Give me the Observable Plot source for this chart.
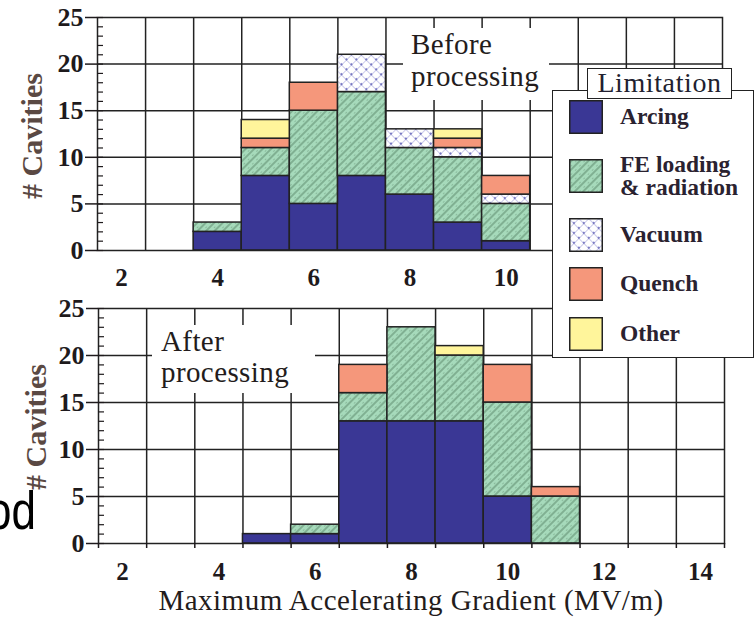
<!DOCTYPE html>
<html><head><meta charset="utf-8">
<script src="https://cdn.jsdelivr.net/npm/d3@7"></script>
<script src="https://cdn.jsdelivr.net/npm/@observablehq/plot@0.6"></script>
<style>
html,body{margin:0;padding:0;background:#fff;}
#page{position:relative;width:754px;height:620px;overflow:hidden;background:#fff;font-family:"Liberation Serif",serif;color:#1e1a1c;}
.panel{position:absolute;left:0;}
.panel svg{overflow:visible;background:transparent;}
.note{position:absolute;background:#fff;font-size:29px;letter-spacing:0.4px;white-space:pre;box-sizing:border-box;color:#231c1c;}
.ylab{position:absolute;font-size:30px;font-weight:bold;line-height:1;white-space:nowrap;color:#5a4943;transform:translate(-50%,-50%) rotate(-90deg);}
.xlab{position:absolute;font-size:29px;line-height:1;white-space:nowrap;letter-spacing:0.5px;transform:translateX(-50%);color:#231c1c;}
.legend{position:absolute;left:552px;top:90px;width:202px;height:268px;box-sizing:border-box;border:1.5px solid #222;background:#fff;}
.ltitle{position:absolute;left:587px;top:68px;width:145px;height:31px;box-sizing:border-box;border:1.5px solid #222;background:#fff;font-size:28px;letter-spacing:0.6px;line-height:28px;text-align:center;color:#221f30;}
.litem{position:absolute;left:569px;height:33px;display:flex;align-items:center;gap:17px;}
.litem span{font-size:23.5px;font-weight:bold;line-height:23px;white-space:pre;color:#2a2230;}
.od{position:absolute;left:-13px;top:485px;font-family:"Liberation Sans",sans-serif;font-size:44px;line-height:1;color:#000;transform-origin:0 0;transform:scaleY(1.2);}
</style></head><body><div id="page"></div>
<script>
// ---- data ----
const bins = [2, 3, 4, 5, 6, 7, 8, 9, 10, 11, 12, 13, 14];
const causes = ["Arcing", "FE loading\n& radiation", "Vacuum", "Quench", "Other"];
// Before processing: counts per bin
const beforeArcing = [0, 0, 2, 8, 5, 8, 6, 3, 1, 0, 0, 0, 0];
const beforeFE     = [0, 0, 1, 3, 10, 9, 5, 7, 4, 0, 0, 0, 0];
const beforeVacuum = [0, 0, 0, 0, 0, 4, 2, 1, 1, 0, 0, 0, 0];
const beforeQuench = [0, 0, 0, 1, 3, 0, 0, 1, 2, 0, 0, 0, 0];
const beforeOther  = [0, 0, 0, 2, 0, 0, 0, 1, 0, 0, 0, 0, 0];
// After processing: counts per bin
const afterArcing = [0, 0, 0, 1, 1, 13, 13, 13, 5, 0, 0, 0, 0];
const afterFE     = [0, 0, 0, 0, 1, 3, 10, 7, 10, 5, 0, 0, 0];
const afterVacuum = [0, 0, 0, 0, 0, 0, 0, 0, 0, 0, 0, 0, 0];
const afterQuench = [0, 0, 0, 0, 0, 3, 0, 0, 4, 1, 0, 0, 0];
const afterOther  = [0, 0, 0, 0, 0, 0, 0, 1, 0, 0, 0, 0, 0];
const xTickValuesTop = [2, 4, 6, 8, 10];          // 12 and 14 sit under the legend
const xTickValuesBottom = [2, 4, 6, 8, 10, 12, 14];
const yTickValues = [0, 5, 10, 15, 20, 25];
const panelNotes = ["Before\nprocessing", "After\nprocessing"];
const legendTitle = "Limitation";
const xTitle = "Maximum Accelerating Gradient (MV/m)";
const yTitle = "# Cavities";
const strayText = "od";

// ---- styles ----
const fills = ["#3a3795", "url(#pat-fe)", "url(#pat-vac)", "#f5977b", "#fff59b"];
const ink = "#222";

const page = document.getElementById("page");

// pattern defs
const defs = document.createElementNS("http://www.w3.org/2000/svg", "svg");
defs.setAttribute("width", 0); defs.setAttribute("height", 0);
defs.style.position = "absolute";
defs.innerHTML = `
<defs>
 <pattern id="pat-fe" patternUnits="userSpaceOnUse" width="6" height="6" patternTransform="rotate(-45)">
  <rect width="6" height="6" fill="#a6dabb"/>
  <line x1="0" y1="3" x2="6" y2="3" stroke="#5a8669" stroke-width="1"/>
  <circle cx="3" cy="0" r="0.7" fill="#5a8669"/>
 </pattern>
 <pattern id="pat-vac" patternUnits="userSpaceOnUse" width="7" height="7" patternTransform="rotate(45)">
  <rect width="7" height="7" fill="#ffffff"/>
  <line x1="0" y1="0" x2="7" y2="0" stroke="#8a8ad2" stroke-width="0.9"/>
  <line x1="0" y1="0" x2="0" y2="7" stroke="#8a8ad2" stroke-width="0.9"/>
  <circle cx="0" cy="0" r="1" fill="#5b5bb3"/>
  <circle cx="7" cy="7" r="1" fill="#5b5bb3"/>
  <circle cx="7" cy="0" r="1" fill="#5b5bb3"/>
  <circle cx="0" cy="7" r="1" fill="#5b5bb3"/>
 </pattern>
</defs>`;
page.appendChild(defs);

function rowsFor(series) {
  const out = [];
  causes.forEach((c, i) => bins.forEach((b, j) => {
    if (series[i][j] > 0) out.push({bin: b, cause: c, count: series[i][j]});
  }));
  return out;
}

const innerEdges = bins.slice(0, -1).map(b => b + 0.5);
const allEdges = [bins[0] - 0.5, ...bins.map(b => b + 0.5)];
const minorY = d3.range(0, 26);

function panel(series, opts) {
  const rows = rowsFor(series);
  const marks = [
    Plot.gridX(innerEdges, {stroke: ink, strokeOpacity: 1, strokeWidth: 1.5}),
    Plot.gridY(yTickValues.slice(1, -1), {stroke: ink, strokeOpacity: 1, strokeWidth: 1.5}),
    Plot.rectY(rows, {x1: d => d.bin - 0.5, x2: d => d.bin + 0.5, y: "count", fill: "cause", stroke: ink, strokeWidth: 1.5}),
    Plot.frame({stroke: ink, strokeWidth: 1.5}),
    Plot.axisY(minorY, {tickSize: -6, text: null, strokeWidth: 1.2, label: null}),
    Plot.axisY(yTickValues, {tickSize: 12, tickPadding: 2, fontSize: 26, fontWeight: "bold", strokeWidth: 1.5, label: null}),
    Plot.axisX(opts.xTicks, {tickSize: 0, tickPadding: opts.labelPad, fontSize: 25, fontWeight: "bold", label: null})
  ];
  if (opts.edgeTicks) marks.push(Plot.axisX(allEdges, {tickSize: 5, text: null, strokeWidth: 1.5, label: null}));
  return Plot.plot({
    width: 754, height: opts.height,
    marginLeft: opts.ml, marginRight: opts.mr, marginTop: opts.mt, marginBottom: opts.mb,
    x: {domain: [bins[0] - 0.5, bins[bins.length - 1] + 0.5], label: null},
    y: {domain: [0, 25], label: null},
    color: {type: "ordinal", domain: causes, range: fills},
    style: {fontFamily: "'Liberation Serif', serif", color: "#1e1a1c", background: "transparent", overflow: "visible"},
    marks
  });
}

const topPanel = document.createElement("div");
topPanel.className = "panel"; topPanel.style.top = "0px";
topPanel.appendChild(panel([beforeArcing, beforeFE, beforeVacuum, beforeQuench, beforeOther],
  {height: 290, ml: 97, mr: 32, mt: 17, mb: 40, labelPad: 18, edgeTicks: false, xTicks: xTickValuesTop}));
page.appendChild(topPanel);

const botPanel = document.createElement("div");
botPanel.className = "panel"; botPanel.style.top = "290px";
botPanel.appendChild(panel([afterArcing, afterFE, afterVacuum, afterQuench, afterOther],
  {height: 330, ml: 98, mr: 30, mt: 18, mb: 77, labelPad: 19, edgeTicks: true, xTicks: xTickValuesBottom}));
page.appendChild(botPanel);

// panel notes (white boxes masking the grid)
function note(text, left, topPx, w, h, padLeft, padTop, lh) {
  const d = document.createElement("div");
  d.className = "note";
  Object.assign(d.style, {left: left + "px", top: topPx + "px", width: w + "px", height: h + "px",
    paddingLeft: padLeft + "px", paddingTop: padTop + "px", lineHeight: lh + "px"});
  d.textContent = text;
  page.appendChild(d);
}
note(panelNotes[0], 403, 28, 146, 72, 8, 0, 32);
note(panelNotes[1], 152, 325, 163, 68, 9, 1, 31);

// legend
const lg = document.createElement("div"); lg.className = "legend"; page.appendChild(lg);
const lt = document.createElement("div"); lt.className = "ltitle"; lt.textContent = legendTitle; page.appendChild(lt);
const legendTops = [100, 159, 218, 267, 317];
causes.forEach((c, i) => {
  const item = document.createElement("div");
  item.className = "litem"; item.style.top = legendTops[i] + "px";
  const sw = d3.create("svg").attr("width", 34).attr("height", 34);
  sw.append("rect").attr("x", 0.75).attr("y", 0.75).attr("width", 32.5).attr("height", 32.5)
    .attr("fill", fills[i]).attr("stroke", ink).attr("stroke-width", 1.5);
  item.appendChild(sw.node());
  const s = document.createElement("span"); s.textContent = c;
  item.appendChild(s);
  page.appendChild(item);
});

// stray text from the source page, cut at the left edge
const od = document.createElement("div"); od.className = "od"; od.textContent = strayText; page.appendChild(od);

// axis titles
function ylab(x, y) {
  const d = document.createElement("div"); d.className = "ylab"; d.textContent = yTitle;
  d.style.left = x + "px"; d.style.top = y + "px"; page.appendChild(d);
}
ylab(32, 136); ylab(36, 427);
const xl = document.createElement("div"); xl.className = "xlab"; xl.textContent = xTitle;
xl.style.left = "411px"; xl.style.top = "586px"; page.appendChild(xl);
</script>
</body></html>
